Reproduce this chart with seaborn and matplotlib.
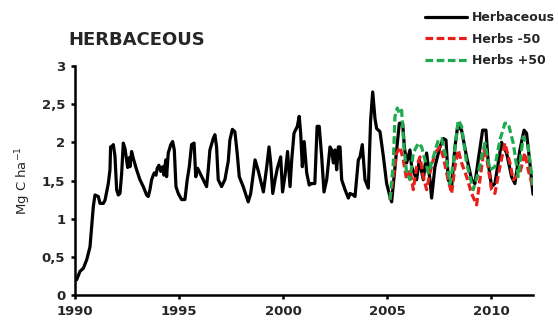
import numpy as np
import pandas as pd
import matplotlib
matplotlib.use("Agg")
import matplotlib.pyplot as plt
import seaborn as sns
from matplotlib.ticker import FuncFormatter

# --- data (decimal years, Mg C ha-1) ---
herb_years = [
    1990.08, 1990.24, 1990.40, 1990.56, 1990.72, 1990.80, 1990.88, 1990.96, 1991.12, 1991.20,
    1991.36, 1991.44, 1991.60, 1991.68, 1991.71, 1991.76, 1991.84, 1991.92, 1992.00, 1992.08,
    1992.16, 1992.24, 1992.32, 1992.40, 1992.48, 1992.53, 1992.61, 1992.64, 1992.72, 1992.80,
    1992.96, 1993.12, 1993.28, 1993.44, 1993.52, 1993.60, 1993.68, 1993.76, 1993.81, 1993.89,
    1993.95, 1994.03, 1994.12, 1994.21, 1994.27, 1994.36, 1994.40, 1994.48, 1994.60, 1994.69,
    1994.77, 1994.85, 1994.96, 1995.12, 1995.28, 1995.39, 1995.49, 1995.60, 1995.72, 1995.80,
    1995.89, 1996.00, 1996.16, 1996.32, 1996.40, 1996.48, 1996.64, 1996.72, 1996.80, 1996.88,
    1997.04, 1997.20, 1997.36, 1997.44, 1997.56, 1997.68, 1997.79, 1997.89, 1998.08, 1998.32,
    1998.44, 1998.65, 1998.81, 1999.05, 1999.21, 1999.32, 1999.40, 1999.50, 1999.61, 1999.72,
    1999.88, 1999.97, 2000.09, 2000.21, 2000.33, 2000.41, 2000.52, 2000.68, 2000.77, 2000.84,
    2000.92, 2001.01, 2001.13, 2001.25, 2001.36, 2001.52, 2001.63, 2001.73, 2001.85, 2001.96,
    2002.09, 2002.25, 2002.33, 2002.41, 2002.49, 2002.57, 2002.65, 2002.73, 2002.81, 2002.97,
    2003.13, 2003.21, 2003.37, 2003.45, 2003.61, 2003.69, 2003.80, 2003.93, 2004.09, 2004.20,
    2004.30, 2004.41, 2004.49, 2004.65, 2004.81, 2004.97, 2005.13, 2005.21, 2005.45, 2005.58,
    2005.74, 2005.82, 2005.93, 2006.09, 2006.17, 2006.41, 2006.54, 2006.73, 2006.89, 2007.05,
    2007.13, 2007.29, 2007.53, 2007.69, 2007.82, 2007.93, 2008.09, 2008.25, 2008.38, 2008.57,
    2008.81, 2009.05, 2009.21, 2009.37, 2009.58, 2009.74, 2009.85, 2010.01, 2010.17, 2010.33,
    2010.49, 2010.73, 2010.97, 2011.13, 2011.37, 2011.57, 2011.69, 2011.85, 2012.00,
]
herb_values = [
    0.20, 0.31, 0.35, 0.46, 0.63, 0.90, 1.16, 1.31, 1.29, 1.20,
    1.20, 1.24, 1.46, 1.64, 1.94, 1.94, 1.97, 1.82, 1.38, 1.31,
    1.33, 1.59, 1.99, 1.92, 1.77, 1.67, 1.80, 1.68, 1.88, 1.79,
    1.64, 1.51, 1.42, 1.31, 1.29, 1.38, 1.51, 1.57, 1.60, 1.57,
    1.66, 1.70, 1.62, 1.68, 1.57, 1.77, 1.55, 1.86, 1.97, 2.01,
    1.90, 1.42, 1.33, 1.25, 1.25, 1.51, 1.68, 1.97, 1.99, 1.55,
    1.66, 1.60, 1.51, 1.42, 1.64, 1.90, 2.05, 2.10, 1.94, 1.51,
    1.42, 1.51, 1.75, 2.03, 2.17, 2.14, 1.86, 1.55, 1.42, 1.22,
    1.33, 1.77, 1.62, 1.35, 1.68, 1.94, 1.73, 1.33, 1.51, 1.66,
    1.81, 1.35, 1.57, 1.88, 1.42, 1.77, 2.12, 2.21, 2.34, 2.12,
    1.68, 2.01, 1.60, 1.44, 1.46, 1.46, 2.21, 2.21, 1.81, 1.35,
    1.51, 1.94, 1.90, 1.73, 1.90, 1.64, 1.94, 1.94, 1.51, 1.38,
    1.27, 1.33, 1.31, 1.29, 1.77, 1.81, 1.97, 1.51, 1.40, 2.29,
    2.66, 2.31, 2.18, 2.14, 1.82, 1.46, 1.29, 1.22, 1.90, 2.25,
    2.25, 1.94, 1.73, 1.90, 1.68, 1.51, 1.77, 1.51, 1.86, 1.51,
    1.27, 1.68, 1.94, 2.05, 2.03, 1.51, 1.42, 1.94, 2.21, 2.16,
    1.81, 1.51, 1.46, 1.77, 2.16, 2.16, 1.73, 1.42, 1.46, 1.73,
    2.00, 1.86, 1.55, 1.46, 1.90, 2.16, 2.12, 1.73, 1.32,
]

minus_years = [
    2005.13, 2005.29, 2005.45, 2005.61, 2005.77, 2005.93, 2006.09, 2006.25, 2006.41, 2006.57,
    2006.73, 2006.89, 2007.05, 2007.29, 2007.53, 2007.69, 2007.85, 2008.09, 2008.25, 2008.41,
    2008.57, 2008.81, 2009.05, 2009.29, 2009.45, 2009.64, 2009.77, 2010.01, 2010.17, 2010.41,
    2010.65, 2010.89, 2011.05, 2011.37, 2011.61, 2011.77, 2012.00,
]
minus_values = [
    1.25, 1.55, 1.86, 1.94, 1.77, 1.51, 1.64, 1.38, 1.68, 1.81,
    1.55, 1.38, 1.60, 1.86, 1.94, 1.81, 1.60, 1.33, 1.68, 1.90,
    1.73, 1.55, 1.33, 1.18, 1.51, 1.90, 1.81, 1.38, 1.33, 1.68,
    1.99, 1.73, 1.51, 1.60, 1.86, 1.64, 1.40,
]

plus_years = [
    2005.13, 2005.29, 2005.37, 2005.48, 2005.58, 2005.69, 2005.80, 2005.93, 2006.09, 2006.25,
    2006.49, 2006.65, 2006.81, 2006.97, 2007.13, 2007.45, 2007.61, 2007.85, 2008.01, 2008.17,
    2008.41, 2008.57, 2008.81, 2009.13, 2009.37, 2009.53, 2009.69, 2009.93, 2010.17, 2010.41,
    2010.65, 2010.81, 2011.05, 2011.29, 2011.53, 2011.77, 2012.00,
]
plus_values = [
    1.25, 1.73, 2.34, 2.45, 2.38, 2.42, 1.94, 1.60, 1.51, 1.86,
    1.99, 1.94, 1.77, 1.60, 1.73, 2.03, 2.05, 1.77, 1.46, 1.73,
    2.29, 2.21, 1.73, 1.38, 1.60, 1.81, 1.99, 1.64, 1.68, 2.03,
    2.25, 2.25, 1.99, 1.55, 2.07, 1.94, 1.42,
]

x_ticks = [1990, 1995, 2000, 2005, 2010]
y_ticks = [0, 0.5, 1, 1.5, 2, 2.5, 3]

sns.set_theme(style="ticks")
plt.rcParams['font.family'] = ['DejaVu Sans']

fig = plt.figure(figsize=(5.58, 3.23), dpi=100)
ax = fig.add_axes([75 / 558, 1 - 295 / 323, (533 - 75) / 558, (295 - 66) / 323])

dash = (0, (2.4, 1.1))
sns.lineplot(x=herb_years, y=herb_values, ax=ax, color='black', linewidth=2.3,
             label='Herbaceous', estimator=None, sort=False)
sns.lineplot(x=minus_years, y=minus_values, ax=ax, color='#e8201c', linewidth=2.3,
             linestyle=dash, label='Herbs -50', estimator=None, sort=False)
sns.lineplot(x=plus_years, y=plus_values, ax=ax, color='#1faa4e', linewidth=2.3,
             linestyle=dash, label='Herbs +50', estimator=None, sort=False)

ax.set_xlim(1990, 2012)
ax.set_ylim(0, 3)
ax.set_xticks(x_ticks)
ax.set_yticks(y_ticks)
ax.yaxis.set_major_formatter(FuncFormatter(lambda v, p: f"{v:g}".replace('.', ',')))
ax.set_xlabel('')
ax.set_ylabel('Mg C ha$^{-1}$', fontsize=9.5, labelpad=6)
ax.tick_params(axis='both', labelsize=9.5, width=1.8, length=3, color='black', pad=4)
for lab in ax.get_xticklabels() + ax.get_yticklabels():
    lab.set_fontweight('bold')
for side in ['left', 'bottom']:
    ax.spines[side].set_linewidth(1.8)
    ax.spines[side].set_color('black')
sns.despine(ax=ax)

fig.text(68 / 558, 1 - 40 / 323, 'HERBACEOUS', fontsize=13, fontweight='bold',
         ha='left', va='center')

handles, labels = ax.get_legend_handles_labels()
ax.get_legend().remove()
fig.legend(handles, labels, loc='upper right', bbox_to_anchor=(0.995, 0.965),
           frameon=False, prop={'size': 9, 'weight': 'bold'}, handlelength=3.3,
           handletextpad=0.45, labelspacing=0.68, borderpad=0, borderaxespad=0)

fig.savefig('out.png', dpi=100)
